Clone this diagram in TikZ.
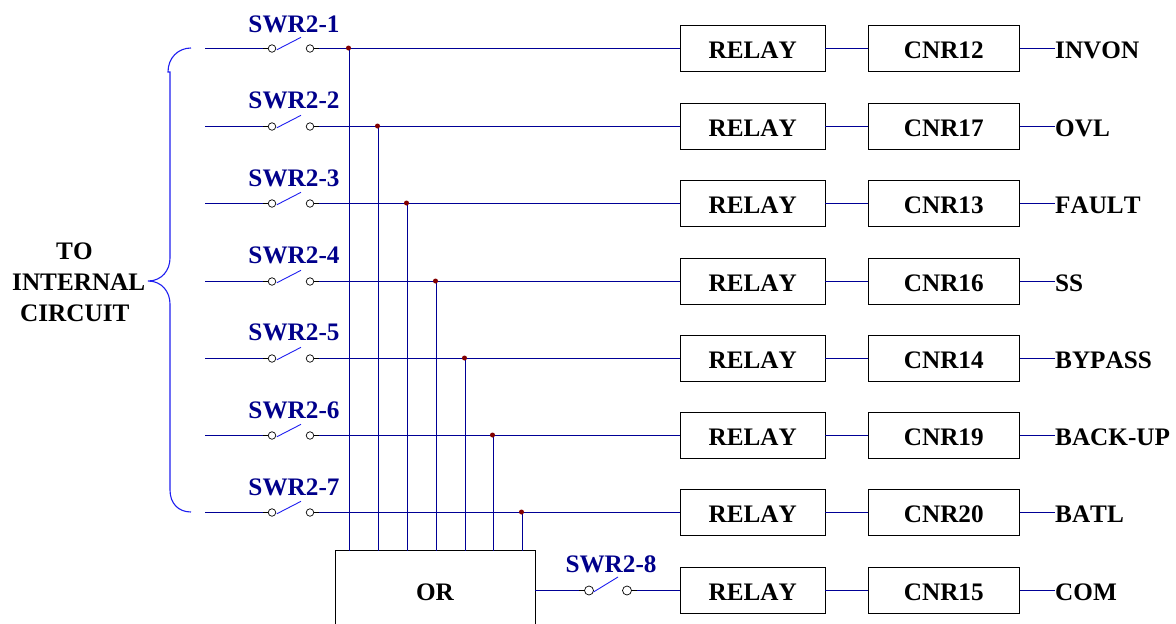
\documentclass[tikz,border=0pt]{standalone}
\usepackage{fontspec}
\setmainfont[Kerning=Off]{Liberation Serif}
\definecolor{labelblue}{RGB}{0,0,139}
\definecolor{wire}{RGB}{0,0,150}
\definecolor{arm}{RGB}{30,30,240}
\definecolor{dotred}{RGB}{130,0,0}
\tikzset{
  x=1pt,y=-1pt,
  blackbox/.style={draw=black,line width=.9pt,fill=white,font=\fontsize{25.2}{25.2}\bfseries\selectfont,inner sep=0pt,text=black,text height=19.8pt,text depth=0pt},
  relaybox/.style={blackbox,minimum width=144.5pt,minimum height=46pt},
  cnrbox/.style={blackbox,minimum width=151.5pt,minimum height=46pt},
  orbox/.style={blackbox,minimum width=200pt,minimum height=80pt},
  swlabel/.style={font=\fontsize{25.2}{25.2}\bfseries\selectfont,text=labelblue,inner sep=0pt},
  outlabel/.style={font=\fontsize{25.2}{25.2}\bfseries\selectfont,text=black,anchor=west,inner sep=0pt,text height=19.8pt,text depth=0pt},
  sidelabel/.style={font=\fontsize{25.2}{25.2}\bfseries\selectfont,anchor=west,inner sep=0pt},
  wireline/.style={draw=wire,line width=1.05pt},
  stub/.style={draw=black,line width=.9pt},
  armline/.style={draw=arm,line width=.9pt},
  bracketline/.style={draw=arm,line width=1.1pt},
  contact/.style={circle,draw=black,line width=.7pt,fill=white,minimum size=7.5pt,inner sep=0pt},
  junction/.style={circle,fill=dotred,minimum size=5pt,inner sep=0pt},
}
\begin{document}
\begin{tikzpicture}
\useasboundingbox (0,0) rectangle (1176,624);
\node[orbox] (or) at (435,590.5) {OR};
\foreach \i/\y/\ly/\jx/\c/\t in {1/48.5/24/349.5/12/INVON,2/126.5/100/378.5/17/OVL,3/203.5/178/407.5/13/FAULT,4/281.5/255/436.5/16/SS,5/358.5/332/465.5/14/BYPASS,6/435.5/410/493.5/19/BACK-UP,7/512.5/487/522.5/20/BATL}{
  \coordinate (start\i) at (205,\y);
  \node[contact] (a\i) at (272,\y) {};
  \node[contact] (b\i) at (310,\y) {};
  \coordinate (armtip\i) at (301,\y-11.2);
  \node[swlabel] (sw\i) at (294,\ly) {SWR2-\i};
  \node[relaybox] (r\i) at (752.7,\y) {RELAY};
  \node[cnrbox] (c\i) at (943.8,\y) {CNR\c};
  \node[outlabel] (o\i) at (1055,\y) {\t};
  \coordinate (orin\i) at (\jx,551);
  \coordinate (jb\i) at (\jx,\y);
  \draw[wireline] (start\i) -- (a\i.west |- start\i);
  \draw[wireline] (b\i.east |- start\i) -- (r\i.west |- start\i);
  \draw[stub] (a\i.west) -- ++(-5,0);
  \draw[stub] (b\i.east) -- ++(5,0);
  \draw[armline] (a\i) ++(4.8,1.3) -- (armtip\i);
  \draw[wireline] (jb\i) -- (orin\i);
  \draw[wireline] (r\i) -- (c\i);
  \draw[wireline] (c\i) -- (o\i);
  \node[junction] (j\i) at (\jx-1,\y-.5) {};
}
\node[contact,minimum width=7pt,minimum height=9pt] (a8) at (589,590.5) {};
\node[contact,minimum width=7pt,minimum height=9pt] (b8) at (627,590.5) {};
\coordinate (armtip8) at (618,577);
\node[swlabel] (sw8) at (611,564) {SWR2-8};
\node[relaybox] (r8) at (752.7,590.5) {RELAY};
\node[cnrbox] (c8) at (943.8,590.5) {CNR15};
\node[outlabel] (o8) at (1055,590.5) {COM};
\draw[wireline] (or.east |- a8) -- (a8);
\draw[wireline] (b8) -- (r8.west |- b8);
\draw[stub] (a8.west) -- ++(-5,0);
\draw[stub] (b8.east) -- ++(5,0);
\draw[armline] (a8) ++(4.5,1.5) -- (armtip8);
\draw[wireline] (r8) -- (c8);
\draw[wireline] (c8) -- (o8);
\node[sidelabel] (side1) at (56,251) {TO};
\node[sidelabel] (side2) at (12,282) {INTERNAL};
\node[sidelabel] (side3) at (20,313) {CIRCUIT};
\coordinate (tip) at (148,281);
\coordinate (top) at (191,48);
\coordinate (bot) at (191,512);
\draw[bracketline] (top) .. controls (178,48) and (168,58) .. (168,72) -- (170,72) -- (170,258) .. controls (170,270) and (162,281) .. (tip) .. controls (162,281) and (170,292) .. (170,304) -- (170,490) .. controls (170,503) and (178,512) .. (bot);
\end{tikzpicture}
\end{document}
